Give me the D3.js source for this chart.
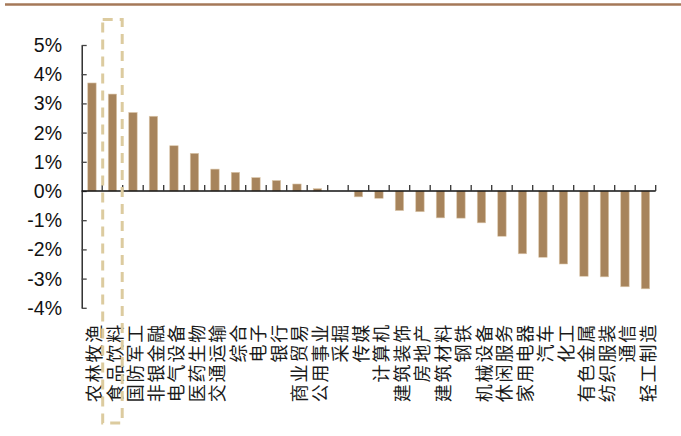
<!DOCTYPE html>
<html>
<head>
<meta charset="utf-8">
<script src="https://cdn.jsdelivr.net/npm/d3@7"></script>
<style>
  html, body { margin: 0; padding: 0; background: #fff; }
  svg { display: block; }
</style>
</head>
<body>
<svg id="chart" width="681" height="436"></svg>
<script>
// Industry names (申万一级), sorted by weekly return
const industries = [
  "农林牧渔", "食品饮料", "国防军工", "非银金融", "电气设备", "医药生物", "交通运输",
  "综合", "电子", "银行", "商业贸易", "公用事业", "采掘", "传媒", "计算机",
  "建筑装饰", "房地产", "建筑材料", "钢铁", "机械设备", "休闲服务", "家用电器",
  "汽车", "化工", "有色金属", "纺织服装", "通信", "轻工制造"
];

// Weekly return, percent
const returns = [
  3.70, 3.32, 2.69, 2.56, 1.55, 1.29, 0.75,
  0.64, 0.46, 0.36, 0.24, 0.08, 0.00, -0.20, -0.25,
  -0.67, -0.71, -0.92, -0.93, -1.09, -1.55, -2.15,
  -2.27, -2.50, -2.92, -2.94, -3.28, -3.35
];

// Y axis tick values, percent
const yTicks = [5, 4, 3, 2, 1, 0, -1, -2, -3, -4];

// Industry framed by the dashed highlight box
const highlighted = "食品饮料";

const svg = d3.select("#chart");

const x = d3.scaleBand()
  .domain(industries)
  .range([81.7, 655.7])
  .paddingInner(0)
  .paddingOuter(0);

const y = d3.scaleLinear()
  .domain([-4, 5])
  .range([307.8, 45]);

const barW = x.bandwidth() * 0.41;

// Brown rule across the top
svg.append("line")
  .attr("x1", 5).attr("x2", 681)
  .attr("y1", 4.5).attr("y2", 4.5)
  .attr("stroke", "#a57858")
  .attr("stroke-width", 2.6);

// Bars
svg.append("g")
  .selectAll("rect")
  .data(industries.map((name, i) => ({ name, value: returns[i] })))
  .join("rect")
  .attr("x", d => x(d.name) + (x.bandwidth() - barW) / 2)
  .attr("y", d => y(Math.max(0, d.value)))
  .attr("width", barW)
  .attr("height", d => Math.abs(y(d.value) - y(0)))
  .attr("fill", "#a7845c")
  .attr("stroke", "#dcc8ac")
  .attr("stroke-width", 0.6);

// Y axis: line, inner ticks and percent labels
const yAxis = svg.append("g")
  .attr("transform", `translate(${x.range()[0]},0)`)
  .call(d3.axisRight(y)
    .tickValues(yTicks)
    .tickSize(5)
    .tickSizeOuter(0)
    .tickFormat(""));
yAxis.select(".domain").attr("stroke", "#111").attr("stroke-width", 1.3);
yAxis.selectAll(".tick line").attr("stroke", "#444").attr("stroke-width", 1.3);

svg.append("g")
  .selectAll("text")
  .data(yTicks)
  .join("text")
  .attr("x", 62)
  .attr("y", d => y(d))
  .attr("text-anchor", "end")
  .attr("dominant-baseline", "central")
  .attr("font-family", "'Liberation Sans', Arial, sans-serif")
  .attr("font-size", 19.5)
  .attr("fill", "#111")
  .text(d => d + "%");

// X axis at zero with upward ticks on category boundaries
const boundaries = industries.map(d => x(d)).concat([x.range()[1]]).slice(1);
svg.append("line")
  .attr("x1", x.range()[0]).attr("x2", x.range()[1])
  .attr("y1", y(0)).attr("y2", y(0))
  .attr("stroke", "#111")
  .attr("stroke-width", 1.4);
svg.append("g")
  .selectAll("line")
  .data(boundaries)
  .join("line")
  .attr("x1", d => d).attr("x2", d => d)
  .attr("y1", y(0)).attr("y2", y(0) - 6)
  .attr("stroke", "#333")
  .attr("stroke-width", 1.3);

// Category labels, rotated, hanging below the plot
svg.append("g")
  .selectAll("text")
  .data(industries)
  .join("text")
  .attr("transform", d => `translate(${x(d) + x.bandwidth() / 2 + 1.5},323) rotate(-90)`)
  .attr("text-anchor", "end")
  .attr("dominant-baseline", "central")
  .attr("font-family", "'Noto Sans CJK SC', sans-serif")
  .attr("font-size", 18)
  .attr("letter-spacing", 1.8)
  .attr("fill", "#1a1a1a")
  .text(d => d);

// Dashed highlight box
svg.append("rect")
  .attr("x", x(highlighted) + 0.5)
  .attr("y", 19.5)
  .attr("width", x.bandwidth() - 1)
  .attr("height", 403.5)
  .attr("fill", "none")
  .attr("stroke", "#dccb9f")
  .attr("stroke-width", 3)
  .attr("stroke-dasharray", "10,7");
</script>
</body>
</html>
